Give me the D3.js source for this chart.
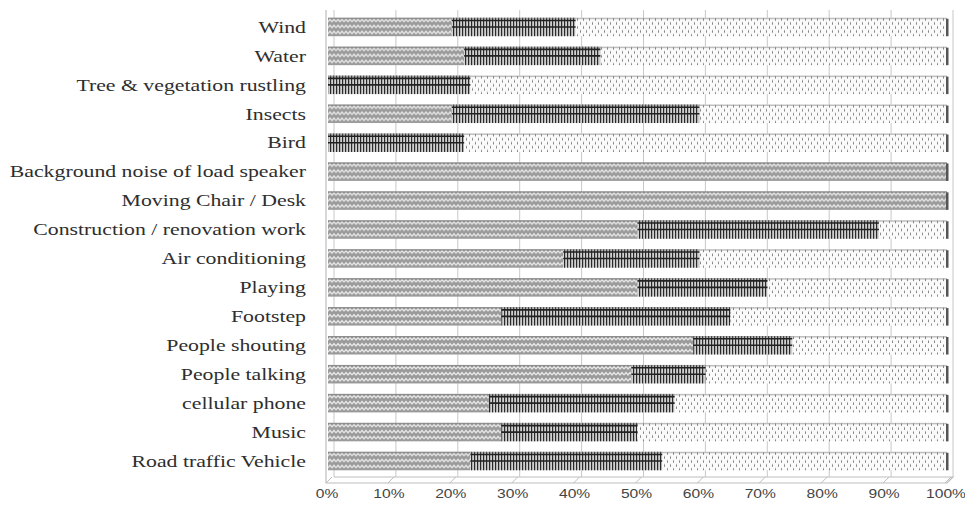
<!DOCTYPE html>
<html>
<head>
<meta charset="utf-8">
<script src="https://cdn.jsdelivr.net/npm/d3@7/dist/d3.min.js"></script>
<style>
  html, body { margin: 0; padding: 0; background: #fff; }
  svg { display: block; }
</style>
</head>
<body>
<main></main>
<script>
const WIDTH = 965;
const HEIGHT = 510;

// Categories, top to bottom as drawn
const categories = [
  "Wind", "Water", "Tree & vegetation rustling", "Insects", "Bird",
  "Background noise of load speaker", "Moving Chair / Desk",
  "Construction / renovation work", "Air conditioning", "Playing",
  "Footstep", "People shouting", "People talking", "cellular phone",
  "Music", "Road traffic Vehicle"
];

// Three stacked shares (percent) for each category
const seriesA = [20, 22, 0, 20, 0, 100, 100, 50, 38, 50, 28, 59, 49, 26, 28, 23];
const seriesB = [20, 22, 23, 40, 22, 0, 0, 39, 22, 21, 37, 16, 12, 30, 22, 31];
const seriesC = [60, 56, 77, 40, 78, 0, 0, 11, 40, 29, 35, 25, 39, 44, 50, 46];

const tickValues = [0, 10, 20, 30, 40, 50, 60, 70, 80, 90, 100];

const x = d3.scaleLinear().domain([0, 100]).range([328, 947]);
const y = d3.scaleBand().domain(categories).range([12.5, 475.5]).paddingInner(0.36).paddingOuter(0.18);

const svg = d3.create("svg").attr("width", WIDTH).attr("height", HEIGHT);
const defs = svg.append("defs");

// zigzag gray pattern (first series)
const pA = defs.append("pattern").attr("id", "pA")
  .attr("patternUnits", "userSpaceOnUse").attr("width", 8).attr("height", 6);
pA.append("rect").attr("width", 8).attr("height", 6).attr("fill", "#9a9a9a");
pA.append("path").attr("d", "M0,4 L2,1.5 L4,4 L6,1.5 L8,4")
  .attr("fill", "none").attr("stroke", "#e8e8e8").attr("stroke-width", 1.3);

// dense vertical lines (second series)
const pB = defs.append("pattern").attr("id", "pB")
  .attr("patternUnits", "userSpaceOnUse").attr("width", 3).attr("height", 4);
pB.append("rect").attr("width", 3).attr("height", 4).attr("fill", "#d0d0d0");
pB.append("rect").attr("x", 0).attr("width", 1.2).attr("height", 4).attr("fill", "#2a2a2a");

// light dotted pattern (third series)
const pC = defs.append("pattern").attr("id", "pC")
  .attr("patternUnits", "userSpaceOnUse").attr("width", 6).attr("height", 8);
pC.append("rect").attr("width", 6).attr("height", 8).attr("fill", "#fafafa");
pC.append("rect").attr("x", 1).attr("y", 0.5).attr("width", 1).attr("height", 2.5).attr("fill", "#858585");
pC.append("rect").attr("x", 4).attr("y", 4.5).attr("width", 1).attr("height", 2.5).attr("fill", "#858585");

// back wall gridlines (3d offset)
const grid = svg.append("g");
grid.selectAll("line").data(tickValues).join("line")
  .attr("x1", (d) => x(d) + 6).attr("x2", (d) => x(d) + 6)
  .attr("y1", 10).attr("y2", 477)
  .attr("stroke", "#c8c8c8").attr("stroke-width", 1);

// left wall + floor
svg.append("path")
  .attr("d", `M${x(0) - 2},10 L${x(0) - 2},483 L${x(100)},483 L${x(100) + 6},477 L${x(0) + 6},477`)
  .attr("fill", "none").attr("stroke", "#bdbdbd").attr("stroke-width", 1.2);
svg.append("g").selectAll("line").data(tickValues).join("line")
  .attr("x1", (d) => x(d) - 2).attr("x2", (d) => x(d) + 4)
  .attr("y1", 483).attr("y2", 477)
  .attr("stroke", "#bdbdbd");

// stacked segments
const rows = categories.map((c, i) => ({
  cat: c,
  segs: [
    { key: "A", x0: 0, x1: seriesA[i] },
    { key: "B", x0: seriesA[i], x1: seriesA[i] + seriesB[i] },
    { key: "C", x0: seriesA[i] + seriesB[i], x1: seriesA[i] + seriesB[i] + seriesC[i] }
  ].filter((s) => s.x1 > s.x0)
}));

const rowG = svg.append("g").selectAll("g").data(rows).join("g")
  .attr("transform", (d) => `translate(0,${y(d.cat)})`);

const bh = y.bandwidth();

rowG.selectAll("rect.seg").data((d) => d.segs).join("rect")
  .attr("class", "seg")
  .attr("x", (d) => x(d.x0))
  .attr("y", 0)
  .attr("width", (d) => x(d.x1) - x(d.x0))
  .attr("height", bh)
  .attr("fill", (d) => `url(#p${d.key})`);

// horizontal rails on the second series
rowG.selectAll("g.rails").data((d) => d.segs.filter((s) => s.key === "B")).join("g")
  .attr("class", "rails")
  .selectAll("line").data((s) => [0.15, 0.5].map((f) => ({ s, f })))
  .join("line")
  .attr("x1", (d) => x(d.s.x0)).attr("x2", (d) => x(d.s.x1))
  .attr("y1", (d) => bh * d.f).attr("y2", (d) => bh * d.f)
  .attr("stroke", "#222").attr("stroke-width", 1.6);

// top face shading
rowG.append("rect")
  .attr("x", x(0)).attr("y", 0).attr("width", x(100) - x(0)).attr("height", 1.5)
  .attr("fill", "#777").attr("opacity", 0.45);

// right end cap
rowG.append("rect")
  .attr("x", x(100) - 1).attr("y", 1).attr("width", 2.5).attr("height", bh - 1)
  .attr("fill", "#555");

// category labels (the source image is stretched horizontally)
svg.append("g").selectAll("text").data(categories).join("text")
  .attr("transform", (d) => `translate(306,${y(d) + bh / 2}) scale(1.32,1)`)
  .attr("dy", "0.35em")
  .attr("text-anchor", "end")
  .attr("font-family", "Liberation Serif, serif")
  .attr("font-size", 16.5)
  .attr("fill", "#2e2e2e")
  .text((d) => d);

// tick labels
svg.append("g").selectAll("text").data(tickValues).join("text")
  .attr("transform", (d) => `translate(${x(d) - 1},498) scale(1.2,1)`)
  .attr("text-anchor", "middle")
  .attr("font-family", "Liberation Sans Narrow, Liberation Sans, sans-serif")
  .attr("font-size", 13)
  .attr("fill", "#444")
  .text((d) => d + "%");

document.querySelector("main").append(svg.node());
</script>
</body>
</html>
